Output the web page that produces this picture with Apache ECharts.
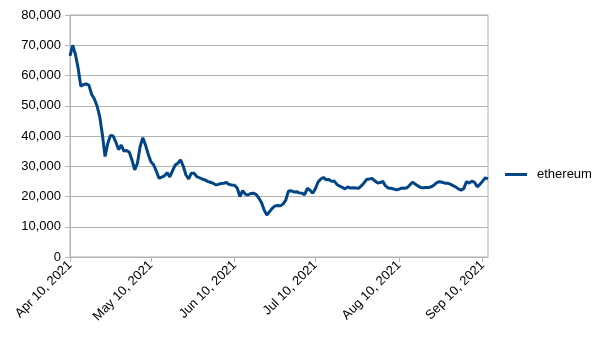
<!DOCTYPE html>
<html>
<head>
<meta charset="utf-8">
<script src="https://cdn.jsdelivr.net/npm/echarts@6/dist/echarts.min.js"></script>
<style>
  html, body { margin: 0; padding: 0; background: #fff; }
  #chart { width: 605px; height: 340px; }
</style>
</head>
<body>
<div id="chart"></div>
<script>
// Daily series, Apr 10 2021 through Sep 12 2021
const startDate = '2021-04-10';
const seriesName = 'ethereum';
const ethereum = [
  66500, 70000, 67000, 62500, 56500, 57000, 57200, 56800, 53800, 52300,
  50000, 46500, 40500, 33200, 37500, 40200, 40000, 38000, 35500, 37000,
  35000, 35200, 34600, 32000, 28800, 31000, 36500, 39400, 37000, 34000,
  31500, 30500, 28400, 26000, 26400, 26800, 27900, 26500, 28500, 30400,
  31000, 32100, 30000, 27100, 25800, 27700, 27700, 26600, 26200, 25800,
  25500, 25000, 24700, 24400, 23900, 24000, 24300, 24400, 24600, 24000,
  23800, 23700, 22800, 20000, 21900, 20800, 20500, 21000, 21100, 20700,
  19500, 18000, 15500, 13900, 15000, 16100, 16900, 17000, 16900, 17500,
  18800, 21800, 21900, 21500, 21600, 21200, 21100, 20600, 22700, 22100,
  21100, 22600, 24800, 25800, 26300, 25500, 25600, 25000, 25100, 24000,
  23400, 23000, 22500, 23200, 22800, 22900, 22800, 22700, 23500, 24500,
  25600, 25800, 26000, 25200, 24500, 24600, 25000, 23500, 22800, 22700,
  22500, 22200, 22400, 22800, 22700, 22900, 23800, 24700, 24100, 23500,
  23000, 22900, 23000, 23000, 23200, 23800, 24600, 24900, 24700, 24400,
  24400, 24100, 23600, 23200, 22500, 22100, 22600, 24900, 24400, 25100,
  24700, 23200, 24000, 25100, 26200, 25800
];
const yTicks = [0, 10000, 20000, 30000, 40000, 50000, 60000, 70000, 80000];
const monthNames = ['Jan', 'Feb', 'Mar', 'Apr', 'May', 'Jun', 'Jul', 'Aug', 'Sep', 'Oct', 'Nov', 'Dec'];

// One category per day, starting at startDate
const dates = [];
{
  const d = new Date(startDate + 'T00:00:00Z');
  for (let i = 0; i < ethereum.length; i++) {
    dates.push(d.toISOString().slice(0, 10));
    d.setUTCDate(d.getUTCDate() + 1);
  }
}

// Ticks and labels fall on the 10th of every month
const isTickDay = (idx, val) => val.slice(8, 10) === '10';
const fmtDate = (val) => {
  const [y, m, dd] = val.split('-');
  return monthNames[+m - 1] + ' ' + (+dd) + ', ' + y;
};

const grey = '#b3b3b3';
const blue = '#004586';
const chart = echarts.init(document.getElementById('chart'), null, { renderer: 'canvas' });
chart.setOption({
  animation: false,
  textStyle: { fontFamily: 'Liberation Sans, Arial, sans-serif' },
  grid: {
    left: 70, right: 117, top: 15, bottom: 83,
    show: true, borderColor: grey, borderWidth: 1
  },
  legend: {
    data: [{ name: seriesName, icon: 'rect' }],
    left: 500, top: 163,
    itemWidth: 22, itemHeight: 3,
    itemStyle: { color: blue },
    textStyle: { fontSize: 13, color: '#000', padding: [0, 0, 0, 5] }
  },
  xAxis: {
    type: 'category',
    data: dates,
    boundaryGap: false,
    axisLine: { lineStyle: { color: grey } },
    axisTick: { show: true, interval: isTickDay, length: 5, lineStyle: { color: grey } },
    axisLabel: {
      interval: isTickDay,
      rotate: 45,
      fontSize: 13,
      color: '#000',
      margin: 6,
      formatter: fmtDate
    },
    splitLine: { show: false }
  },
  yAxis: {
    type: 'value',
    min: yTicks[0],
    max: yTicks[yTicks.length - 1],
    interval: yTicks[1] - yTicks[0],
    axisLine: { show: true, lineStyle: { color: grey } },
    axisTick: { show: true, length: 5, lineStyle: { color: grey } },
    axisLabel: {
      fontSize: 13,
      color: '#000',
      margin: 9,
      formatter: (v) => v.toLocaleString('en-US')
    },
    splitLine: { show: true, lineStyle: { color: grey, width: 1 } }
  },
  series: [{
    name: seriesName,
    type: 'line',
    data: ethereum,
    showSymbol: false,
    symbol: 'none',
    color: blue,
    lineStyle: { width: 3, color: blue }
  }]
});
</script>
</body>
</html>
